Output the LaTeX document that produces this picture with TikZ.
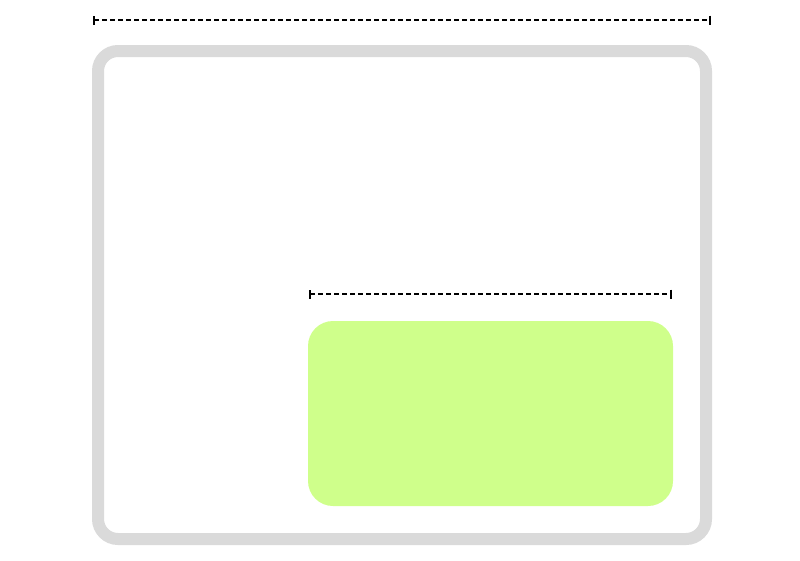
\documentclass[tikz,border=0pt]{standalone}
\usetikzlibrary{arrows.meta}
\definecolor{framegray}{RGB}{218,218,218}
\definecolor{limegreen}{RGB}{207,255,139}
\tikzset{
  dimline/.style={draw=black, line width=1.6pt, dash pattern=on 5pt off 3pt, {Bar[width=9pt,line width=1.8pt]}-{Bar[width=9pt,line width=1.8pt]}},
  frame/.style={draw=framegray, line width=12pt, rounded corners=20pt},
  greenbox/.style={fill=limegreen, rounded corners=25pt}
}
\begin{document}
\begin{tikzpicture}[x=1pt,y=-1pt]
\useasboundingbox (0,0) rectangle (800,560);
\draw[frame] (98,51) rectangle (706,539);
\fill[greenbox] (308,321) rectangle (673,506);
\coordinate (t1) at (93,20);
\coordinate (t2) at (711,20);
\coordinate (m1) at (309,294);
\coordinate (m2) at (672,294);
\draw[dimline] (t1) -- (t2);
\draw[dimline] (m1) -- (m2);
\end{tikzpicture}
\end{document}
